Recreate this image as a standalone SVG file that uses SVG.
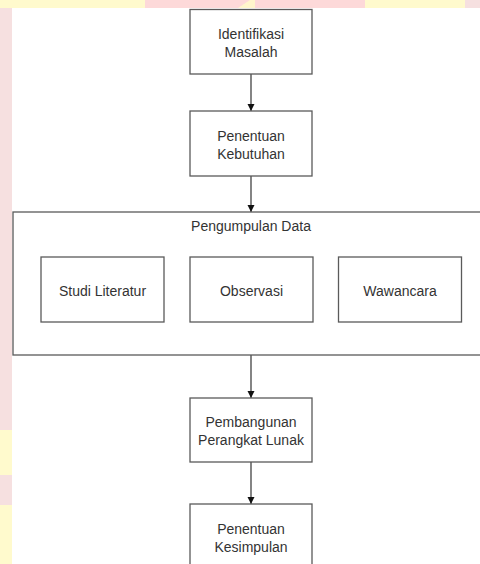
<svg xmlns="http://www.w3.org/2000/svg" width="480" height="564" viewBox="0 0 480 564">
<style>
.box{fill:#fff;stroke:#5a5a5a;stroke-width:1.3}
.t{font-family:"Liberation Sans",Arial,sans-serif;font-size:14px;fill:#333;text-anchor:middle}
.c{stroke:#333;stroke-width:1.2;fill:none}
</style>
<defs>
<marker id="ah" markerWidth="8" markerHeight="8" refX="7" refY="4" orient="auto" markerUnits="userSpaceOnUse">
<path d="M0,0.5 L7,4 L0,7.5 Z" fill="#111"/>
</marker>
</defs>
<g id="background">
<rect x="0" y="0" width="480" height="564" fill="#f6e0e0"/>
<rect x="0" y="0" width="145" height="8" fill="#fffacd"/>
<rect x="145" y="0" width="110" height="8" fill="#fdd9d9"/>
<polygon points="238,8 250,0 255,0 255,8" fill="#fff6cc"/>
<rect x="255" y="0" width="110" height="8" fill="#fdd9d9"/>
<rect x="365" y="0" width="100" height="8" fill="#fffacd"/>
<rect x="0" y="430" width="12" height="45" fill="#fffacd"/>
<rect x="0" y="505" width="12" height="59" fill="#fffacd"/>
<rect x="12" y="8" width="468" height="556" fill="#fff"/>
</g>
<g id="connectors">
<line class="c" x1="251" y1="74" x2="251" y2="111" marker-end="url(#ah)"/>
<line class="c" x1="251" y1="176" x2="251" y2="212" marker-end="url(#ah)"/>
<line class="c" x1="251" y1="355" x2="251" y2="398" marker-end="url(#ah)"/>
<line class="c" x1="251" y1="462" x2="251" y2="504" marker-end="url(#ah)"/>
</g>
<g id="identifikasi">
<rect class="box" x="190" y="9.5" width="122" height="64.5"/>
<text class="t" x="251" y="39">Identifikasi</text>
<text class="t" x="251" y="57">Masalah</text>
</g>
<g id="kebutuhan">
<rect class="box" x="190" y="111" width="122" height="65"/>
<text class="t" x="251" y="141">Penentuan</text>
<text class="t" x="251" y="159">Kebutuhan</text>
</g>
<g id="pengumpulan">
<rect class="box" x="13" y="212" width="480" height="143"/>
<text class="t" x="251" y="231">Pengumpulan Data</text>
</g>
<g id="studi">
<rect class="box" x="41" y="257" width="123" height="65"/>
<text class="t" x="102.5" y="296">Studi Literatur</text>
</g>
<g id="observasi">
<rect class="box" x="190" y="257" width="123" height="65"/>
<text class="t" x="251.5" y="296">Observasi</text>
</g>
<g id="wawancara">
<rect class="box" x="338.5" y="257" width="123" height="65"/>
<text class="t" x="400" y="296">Wawancara</text>
</g>
<g id="pembangunan">
<rect class="box" x="190" y="398" width="122" height="64"/>
<text class="t" x="251" y="427">Pembangunan</text>
<text class="t" x="251" y="445">Perangkat Lunak</text>
</g>
<g id="kesimpulan">
<rect class="box" x="190" y="504" width="122" height="70"/>
<text class="t" x="251" y="534">Penentuan</text>
<text class="t" x="251" y="552">Kesimpulan</text>
</g>
</svg>
